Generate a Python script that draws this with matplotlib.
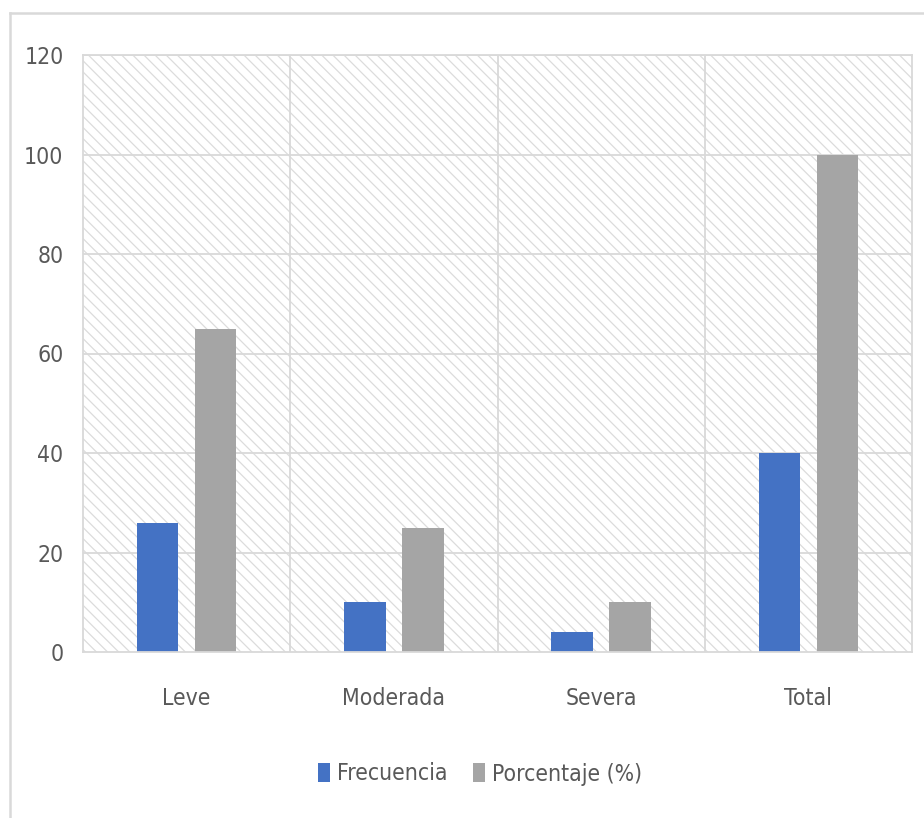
import matplotlib.pyplot as plt
import numpy as np
from matplotlib.patches import Rectangle
from matplotlib.lines import Line2D

categories = ["Leve", "Moderada", "Severa", "Total"]
frecuencia = [26, 10, 4, 40]
porcentaje = [65, 25, 10, 100]
series_labels = ["Frecuencia", "Porcentaje (%)"]

BLUE = "#4472C4"
GRAY = "#A5A5A5"
GRID = "#D9D9D9"
TEXT = "#595959"

plt.rcParams['font.family'] = ['DejaVu Sans']
plt.rcParams['font.stretch'] = 'condensed'
plt.rcParams['hatch.linewidth'] = 0.9
plt.rcParams['hatch.color'] = "#DCDCDC"

fig = plt.figure(figsize=(9.24, 8.18), dpi=100)
ax = fig.add_axes([83 / 924, 1 - 652 / 818, (912 - 83) / 924, (652 - 55) / 818])

# hatched plot area background
bg = Rectangle((0, 0), 1, 1, transform=ax.transAxes, facecolor="white",
               edgecolor="#DCDCDC", hatch="\\\\\\", linewidth=0, zorder=0)
ax.add_patch(bg)

x = np.arange(len(categories))
w = 0.2
ax.bar(x - 0.14, frecuencia, width=w, color=BLUE, label=series_labels[0], zorder=3)
ax.bar(x + 0.14, porcentaje, width=w, color=GRAY, label=series_labels[1], zorder=3)

ax.set_xlim(-0.5, len(categories) - 0.5)
ax.set_ylim(0, 120)
ax.set_yticks(np.arange(0, 121, 20))
ax.set_xticks(x)
ax.set_xticklabels(categories)

# gridlines: horizontal at ticks, vertical between categories
for y in np.arange(20, 121, 20):
    ax.axhline(y, color=GRID, linewidth=1.3, zorder=1)
for xb in np.arange(0.5, len(categories) - 0.5, 1):
    ax.axvline(xb, color=GRID, linewidth=1.3, zorder=1)

for s in ax.spines.values():
    s.set_color(GRID)
    s.set_linewidth(1.3)
ax.spines['bottom'].set_zorder(4)

ax.tick_params(axis='both', length=0, labelsize=16.5, labelcolor=TEXT)
ax.tick_params(axis='y', pad=14)
ax.tick_params(axis='x', pad=25)

fig.legend(loc='center', bbox_to_anchor=(480 / 924, 1 - 774 / 818), ncol=2,
           frameon=False, fontsize=16.5, labelcolor=TEXT, handlelength=0.5,
           handleheight=0.9, handletextpad=0.3, columnspacing=1.15)

# outer chart frame (left and top edges visible)
fig.add_artist(Line2D([10 / 924, 10 / 924], [0, 1 - 13 / 818], color=GRID, linewidth=1.8))
fig.add_artist(Line2D([10 / 924, 1], [1 - 13 / 818, 1 - 13 / 818], color=GRID, linewidth=1.8))

fig.savefig("out.png", dpi=100)
